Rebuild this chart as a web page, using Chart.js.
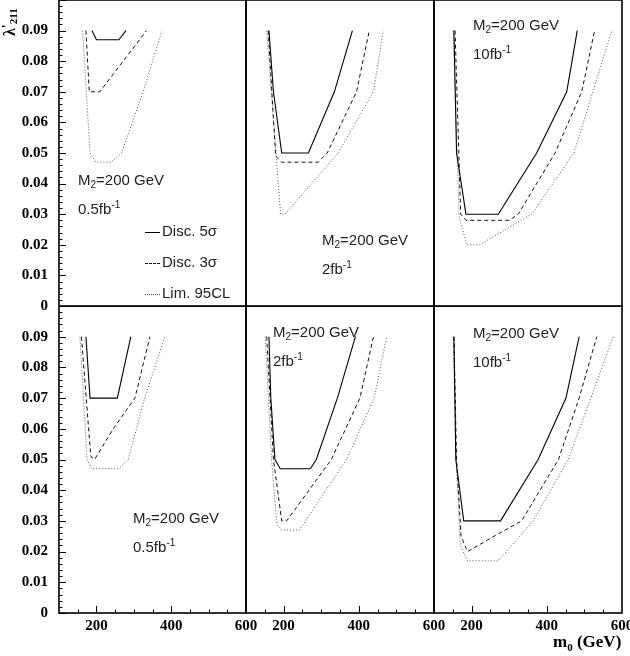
<!DOCTYPE html>
<html>
<head>
<meta charset="utf-8">
<title>lambda'211 reach vs m0</title>
<script src="https://cdn.jsdelivr.net/npm/chart.js@4.4.0/dist/chart.umd.min.js"></script>
<style>
  html, body { margin: 0; padding: 0; background: #fff; overflow: hidden; }
  #fig { position: relative; width: 630px; height: 656px; }
  #fig canvas { position: absolute; }
  .note { position: absolute; font: 15px "Liberation Sans", Arial, sans-serif; color: #222;
          line-height: 18px; white-space: nowrap; }
  .note sub { font-size: 10px; vertical-align: -3px; line-height: 0; }
  .note sup { font-size: 10px; vertical-align: 6px; line-height: 0; }
  .sample { display: inline-block; width: 15px; height: 0; vertical-align: middle; margin-right: 2px; }
  #ytitle { position: absolute; left: 2px; top: 36px; transform-origin: left top; transform: rotate(-90deg);
            font: bold 16px "Liberation Serif", serif; line-height: 16px; white-space: nowrap; }
  #ytitle sub { font-size: 11px; vertical-align: -2px; line-height: 0; }
  #ytitle sup { font-size: 14px; vertical-align: 3px; line-height: 0; }
  #xtitle { position: absolute; left: 553px; top: 632px; font: bold 17px "Liberation Serif", serif;
            line-height: 20px; white-space: nowrap; }
  #xtitle sub { font-size: 11px; vertical-align: -4px; line-height: 0; }
</style>
</head>
<body>
<div id="fig">
  <div id="ytitle">λ<sup>'</sup><sub>211</sub></div>
  <div id="xtitle">m<sub>0</sub> (GeV)</div>
</div>
<script>
// =====================
// DATA
// =====================
const xMin = 100, xMax = 600;
const yMin = 0, yMax = 0.1;
const xTickLabels = [200, 400, 600];
const xMinorStep = 50;
const yTickStep = 0.01;
const yMinorStep = 0.002;
const seriesNames = ['Disc. 5σ', 'Disc. 3σ', 'Lim. 95CL'];
const lumiLabels = ['0.5', '2', '10'];   // fb^-1, one per column

// points are [m0 (GeV), lambda'211]
// top row
const topL_disc5 = [[188, 0.09], [200, 0.087], [260, 0.087], [279, 0.09]];
const topL_disc3 = [[172, 0.09], [181, 0.07], [209, 0.07], [334, 0.09]];
const topL_lim95 = [[163, 0.09], [183, 0.05], [199, 0.047], [239, 0.047], [267, 0.05], [325, 0.07], [375, 0.09]];

const topM_disc5 = [[161, 0.09], [173, 0.07], [195, 0.05], [266, 0.05], [335, 0.07], [383, 0.09]];
const topM_disc3 = [[159, 0.09], [179, 0.049], [195, 0.047], [292, 0.047], [316, 0.05], [394, 0.07], [428, 0.09]];
const topM_lim95 = [[155, 0.09], [192, 0.03], [204, 0.03], [345, 0.05], [439, 0.07], [465, 0.09]];

const topR_disc5 = [[153, 0.09], [160, 0.05], [185, 0.03], [271, 0.03], [373, 0.05], [453, 0.07], [481, 0.09]];
const topR_disc3 = [[156, 0.09], [171, 0.03], [185, 0.028], [300, 0.028], [324, 0.03], [422, 0.05], [493, 0.07], [527, 0.09]];
const topR_lim95 = [[151, 0.09], [167, 0.029], [187, 0.02], [221, 0.02], [360, 0.03], [472, 0.05], [573, 0.09]];

// bottom row
const botL_disc5 = [[172, 0.09], [183, 0.07], [256, 0.07], [292, 0.09]];
const botL_disc3 = [[160, 0.09], [185, 0.051], [195, 0.05], [245, 0.06], [303, 0.07], [343, 0.09]];
const botL_lim95 = [[156, 0.09], [175, 0.05], [187, 0.047], [260, 0.047], [285, 0.05], [329, 0.07], [383, 0.09]];

const botM_disc5 = [[161, 0.09], [166, 0.07], [177, 0.05], [191, 0.047], [271, 0.047], [287, 0.05], [343, 0.07], [391, 0.09]];
const botM_disc3 = [[155, 0.09], [173, 0.05], [195, 0.03], [208, 0.03], [327, 0.05], [403, 0.07], [439, 0.09]];
const botM_lim95 = [[151, 0.09], [168, 0.05], [182, 0.029], [194, 0.027], [242, 0.027], [367, 0.05], [441, 0.07], [474, 0.09]];

const botR_disc5 = [[153, 0.09], [158, 0.05], [179, 0.03], [277, 0.03], [377, 0.05], [451, 0.07], [486, 0.09]];
const botR_disc3 = [[153, 0.09], [160, 0.05], [172, 0.025], [189, 0.02], [267, 0.0255], [333, 0.03], [431, 0.05], [486, 0.07], [533, 0.09]];
const botR_lim95 = [[151, 0.09], [159, 0.05], [170, 0.022], [189, 0.017], [271, 0.017], [364, 0.03], [457, 0.05], [577, 0.09]];

const panels = [
  { col: 0, row: 0, curves: [topL_disc5, topL_disc3, topL_lim95] },
  { col: 1, row: 0, curves: [topM_disc5, topM_disc3, topM_lim95] },
  { col: 2, row: 0, curves: [topR_disc5, topR_disc3, topR_lim95] },
  { col: 0, row: 1, curves: [botL_disc5, botL_disc3, botL_lim95] },
  { col: 1, row: 1, curves: [botM_disc5, botM_disc3, botM_lim95] },
  { col: 2, row: 1, curves: [botR_disc5, botR_disc3, botR_lim95] }
];

// =====================
// LAYOUT / STYLE
// =====================
const COL_LEFT = [59, 246, 434], COL_RIGHT = [246, 434, 622];
const ROW_TOP = [0, 306], ROW_BOTTOM = [306, 613];
const Y_AXIS_W = 59, X_AXIS_H = 43, PAD = 14;

const lineStyles = [
  { borderColor: '#000', borderWidth: 1.1, borderDash: [] },
  { borderColor: '#111', borderWidth: 1, borderDash: [4, 3] },
  { borderColor: '#555', borderWidth: 1, borderDash: [1, 2] }
];
const sampleBorders = ['1px solid #000', '1px dashed #111', '1px dotted #555'];

// [left, centre y] of the "M2" line; the lumi line sits 29px lower
const notePos = [[78, 180], [322, 240], [473, 25], [133, 518], [273, 332], [473, 333]];
const legendPos = { left: 145, ys: [231, 262, 293] };

const tickFont = { family: '"Liberation Serif", "Times New Roman", serif', weight: 'bold' };

// =====================
// FRAME + INSIDE TICKS
// =====================
const framePlugin = {
  id: 'frame',
  afterDraw(chart, args, opts) {
    const { ctx, chartArea: a, scales: { x, y } } = chart;
    ctx.save();
    ctx.strokeStyle = '#000';
    ctx.lineWidth = 1.6;
    ctx.strokeRect(a.left, a.top, a.right - a.left, a.bottom - a.top);
    ctx.lineWidth = 1;
    ctx.beginPath();
    if (opts.yTicks) {
      const n = Math.round((yMax - yMin) / yMinorStep);
      for (let i = 0; i <= n; i++) {
        const py = Math.round(y.getPixelForValue(yMin + i * yMinorStep)) + 0.5;
        const len = i % 5 === 0 ? 7 : 3.5;
        ctx.moveTo(a.left, py);
        ctx.lineTo(a.left + len, py);
      }
    }
    if (opts.xTicks) {
      for (let v = xMin + xMinorStep; v < xMax; v += xMinorStep) {
        const px = Math.round(x.getPixelForValue(v)) + 0.5;
        const len = v % 200 === 0 ? 7 : 3.5;
        ctx.moveTo(px, a.bottom);
        ctx.lineTo(px, a.bottom - len);
      }
    }
    ctx.stroke();
    ctx.restore();
  }
};

// =====================
// BUILD PANELS
// =====================
const fig = document.getElementById('fig');

function makePanel(p) {
  const leftAxis = p.col === 0;
  const bottomAxis = p.row === 1;
  const cl = leftAxis ? 0 : COL_LEFT[p.col] - PAD;
  const ct = ROW_TOP[p.row];
  const cr = COL_RIGHT[p.col] + PAD;
  const cb = ROW_BOTTOM[p.row] + (bottomAxis ? X_AXIS_H : PAD);

  const canvas = document.createElement('canvas');
  canvas.width = cr - cl;
  canvas.height = cb - ct;
  canvas.style.left = cl + 'px';
  canvas.style.top = ct + 'px';
  fig.insertBefore(canvas, fig.firstChild);

  new Chart(canvas, {
    type: 'scatter',
    data: {
      datasets: p.curves.map((pts, i) => ({
        label: seriesNames[i],
        data: pts.map(([x, y]) => ({ x, y })),
        showLine: true,
        pointRadius: 0,
        tension: 0,
        fill: false,
        ...lineStyles[i]
      }))
    },
    options: {
      responsive: false,
      animation: false,
      events: [],
      layout: { padding: { left: leftAxis ? 0 : PAD, right: PAD, top: 0, bottom: bottomAxis ? 0 : PAD } },
      plugins: {
        legend: { display: false },
        tooltip: { enabled: false },
        frame: { yTicks: leftAxis, xTicks: bottomAxis }
      },
      scales: {
        x: {
          type: 'linear', min: xMin, max: xMax, display: bottomAxis,
          afterBuildTicks: s => { s.ticks = xTickLabels.map(v => ({ value: v })); },
          afterFit: s => {
            s.height = bottomAxis ? X_AXIS_H : 0;
            s.paddingLeft = 0; s.paddingRight = 0;
          },
          grid: { display: false, drawTicks: false },
          border: { display: false },
          ticks: { autoSkip: false, maxRotation: 0, padding: 4, color: '#000', font: { ...tickFont, size: 15 } }
        },
        y: {
          type: 'linear', min: yMin, max: yMax, display: leftAxis,
          afterFit: s => {
            s.width = leftAxis ? Y_AXIS_W : 0;
            s.paddingTop = 0; s.paddingBottom = 0;
          },
          grid: { display: false, drawTicks: false },
          border: { display: false },
          ticks: {
            stepSize: yTickStep, padding: 11, color: '#000', font: { ...tickFont, size: 15 },
            callback: v => v > yMax - 1e-6 ? '' : (Math.abs(v) < 1e-9 ? '0' : v.toFixed(2))
          }
        }
      }
    },
    plugins: [framePlugin]
  });
}

panels.forEach(makePanel);

// =====================
// TEXT ANNOTATIONS
// =====================
function addNote(html, left, cy) {
  const d = document.createElement('div');
  d.className = 'note';
  d.innerHTML = html;
  d.style.left = left + 'px';
  d.style.top = (cy - 9) + 'px';
  fig.appendChild(d);
}

panels.forEach((p, i) => {
  const [lx, cy] = notePos[i];
  addNote('M<sub>2</sub>=200 GeV', lx, cy);
  addNote(lumiLabels[p.col] + 'fb<sup>-1</sup>', lx, cy + 29);
});

seriesNames.forEach((name, i) => {
  addNote('<span class="sample" style="border-top:' + sampleBorders[i] + '"></span>' + name,
          legendPos.left, legendPos.ys[i]);
});
</script>
</body>
</html>
